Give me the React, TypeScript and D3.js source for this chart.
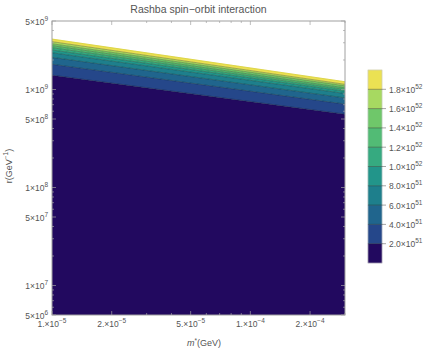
import React, { useEffect, useRef } from "react"
import * as d3 from "d3"

// contour levels of the colour legend
const levels = [2e51, 4e51, 6e51, 8e51, 1e52, 1.2e52, 1.4e52, 1.6e52, 1.8e52]
const levelMant = ["2.0", "4.0", "6.0", "8.0", "1.0", "1.2", "1.4", "1.6", "1.8"]
const levelExp = ["51", "51", "51", "51", "52", "52", "52", "52", "52"]

// r (GeV^-1) where each contour line meets the left (m*=1e-5) and right (m*=3e-4) edge
// last entry is the upper edge of the plotted region
const edgeM = [1e-5, 3e-4]
const lineLeft = [1.4e9, 1.81e9, 2.13e9, 2.37e9, 2.53e9, 2.67e9, 2.8e9, 2.93e9, 3.08e9, 3.27e9]
const lineRight = [5.6e8, 7.1e8, 8.2e8, 9.1e8, 9.6e8, 1.0e9, 1.04e9, 1.09e9, 1.13e9, 1.2e9]

const bandColors = [
    "#22095f", "#25478a", "#20658d", "#1e7f8c", "#22958a",
    "#36aa80", "#52bb75", "#6fc76a", "#a7d961", "#ebe153"
]

const xMajor = [1e-5, 2e-5, 5e-5, 1e-4, 2e-4]
const xMant = ["1.", "2.", "5.", "1.", "2."]
const xExp = ["\u22125", "\u22125", "\u22125", "\u22124", "\u22124"]
const yMajor = [5e6, 1e7, 5e7, 1e8, 5e8, 1e9, 5e9]
const yMant = ["5", "1", "5", "1", "5", "1", "5"]
const yExp = ["6", "7", "7", "8", "8", "9", "9"]

const W = 437
const H = 351
const font = "Liberation Sans, Arial, sans-serif"
const textColor = "#555"

export default function App() {
    const ref = useRef<SVGSVGElement>(null)

    useEffect(() => {
        document.body.style.margin = "0"
        const svg = d3.select(ref.current)
        svg.selectAll("*").remove()

        const left = 52, right = 345, top = 21, bottom = 315
        const x = d3.scaleLog().domain([1e-5, 3e-4]).range([left, right])
        const y = d3.scaleLog().domain([5e6, 5e9]).range([bottom, top])

        svg.append("rect").attr("width", W).attr("height", H).attr("fill", "white")

        const clip = svg.append("defs").append("clipPath").attr("id", "plotclip")
        clip.append("rect").attr("x", left).attr("y", top)
            .attr("width", right - left).attr("height", bottom - top)

        const plot = svg.append("g").attr("clip-path", "url(#plotclip)")

        // bands
        const area = d3.area<{ m: number, lo: number, hi: number }>()
            .x(d => x(d.m)).y0(d => y(d.lo)).y1(d => y(d.hi))
        for (let i = 0; i < bandColors.length; i++) {
            const data = edgeM.map((m, j) => {
                const lines = j == 0 ? lineLeft : lineRight
                return { m, lo: i == 0 ? 5e6 : lines[i - 1], hi: lines[i] }
            })
            plot.append("path").attr("d", area(data))
                .attr("fill", bandColors[i])
                .attr("stroke", bandColors[i]).attr("stroke-width", 0.3)
        }

        // contour lines
        const line = d3.line<[number, number]>().x(d => x(d[0])).y(d => y(d[1]))
        for (let i = 0; i < levels.length; i++) {
            plot.append("path")
                .attr("d", line([[edgeM[0], lineLeft[i]], [edgeM[1], lineRight[i]]]))
                .attr("fill", "none")
                .attr("stroke", "rgba(0,0,0,0.45)")
                .attr("stroke-width", 0.6)
        }
        plot.append("path")
            .attr("d", line([[edgeM[0], lineLeft[9]], [edgeM[1], lineRight[9]]]))
            .attr("fill", "none").attr("stroke", "#d8cf3a").attr("stroke-width", 0.8)

        // frame
        svg.append("rect").attr("x", left).attr("y", top)
            .attr("width", right - left).attr("height", bottom - top)
            .attr("fill", "none").attr("stroke", "#a0a0a0").attr("stroke-width", 1)

        // ticks
        const ticks = svg.append("g").attr("stroke", "#a0a0a0").attr("stroke-width", 0.7)
        x.ticks().forEach(t => {
            const major = xMajor.some(v => Math.abs(v - t) / v < 1e-6)
            const len = major ? 4 : 2
            ticks.append("line").attr("x1", x(t)).attr("x2", x(t))
                .attr("y1", bottom).attr("y2", bottom - len)
            ticks.append("line").attr("x1", x(t)).attr("x2", x(t))
                .attr("y1", top).attr("y2", top + len)
        })
        y.ticks().forEach(t => {
            const major = yMajor.some(v => Math.abs(v - t) / v < 1e-6)
            const len = major ? 4 : 2
            ticks.append("line").attr("y1", y(t)).attr("y2", y(t))
                .attr("x1", left).attr("x2", left + len)
            ticks.append("line").attr("y1", y(t)).attr("y2", y(t))
                .attr("x1", right).attr("x2", right - len)
        })

        const sci = (g: d3.Selection<SVGTextElement, unknown, null, undefined>, mant: string, exp: string) => {
            g.append("tspan").text(mant + "\u00d710")
            g.append("tspan").attr("dy", -4).attr("font-size", 6.5).text(exp)
        }

        xMajor.forEach((v, i) => {
            const t = svg.append("text").attr("x", x(v)).attr("y", 327)
                .attr("text-anchor", "middle").attr("font-family", font)
                .attr("font-size", 8.5).attr("fill", textColor)
            sci(t, xMant[i], xExp[i])
        })
        yMajor.forEach((v, i) => {
            const t = svg.append("text").attr("x", 48).attr("y", y(v) + 4)
                .attr("text-anchor", "end").attr("font-family", font)
                .attr("font-size", 8.5).attr("fill", textColor)
            sci(t, yMant[i], yExp[i])
        })

        // axis labels and title
        svg.append("text").attr("x", (left + right) / 2).attr("y", 12.5)
            .attr("text-anchor", "middle").attr("font-family", font)
            .attr("font-size", 10.5).attr("fill", textColor)
            .text("Rashba spin\u2212orbit interaction")

        const xl = svg.append("text").attr("x", 204).attr("y", 346)
            .attr("text-anchor", "middle").attr("font-family", font)
            .attr("font-size", 9).attr("fill", textColor)
        xl.append("tspan").attr("font-style", "italic").text("m")
        xl.append("tspan").attr("dy", -3.5).attr("font-size", 6.5).text("*")
        xl.append("tspan").attr("dy", 3.5).text("(GeV)")

        const yl = svg.append("text")
            .attr("transform", "translate(11.5,166) rotate(-90)")
            .attr("text-anchor", "middle").attr("font-family", font)
            .attr("font-size", 9).attr("fill", textColor)
        yl.append("tspan").text("r(GeV")
        yl.append("tspan").attr("dy", -3.5).attr("font-size", 6.5).text("\u22121")
        yl.append("tspan").attr("dy", 3.5).text(")")

        // legend
        const lx = 368, lw = 14, ltop = 70, lbottom = 263
        const ly = d3.scaleLinear().domain([0, bandColors.length]).range([lbottom, ltop])
        bandColors.forEach((c, i) => {
            svg.append("rect").attr("x", lx).attr("y", ly(i + 1))
                .attr("width", lw).attr("height", ly(i) - ly(i + 1))
                .attr("fill", c).attr("stroke", c).attr("stroke-width", 0.3)
        })
        svg.append("rect").attr("x", lx).attr("y", ltop)
            .attr("width", lw).attr("height", lbottom - ltop)
            .attr("fill", "none").attr("stroke", "#c8c8c8").attr("stroke-width", 0.6)
        levels.forEach((v, i) => {
            const yy = ly(i + 1)
            svg.append("line").attr("x1", lx).attr("x2", lx + lw + 4)
                .attr("y1", yy).attr("y2", yy)
                .attr("stroke", "rgba(40,40,40,0.6)").attr("stroke-width", 0.7)
            const t = svg.append("text").attr("x", lx + lw + 7).attr("y", yy + 3.5)
                .attr("font-family", font).attr("font-size", 8.5).attr("fill", textColor)
            sci(t, levelMant[i], levelExp[i])
        })
    }, [])

    return <svg ref={ref} width={W} height={H} style={{ display: "block" }} />
}
